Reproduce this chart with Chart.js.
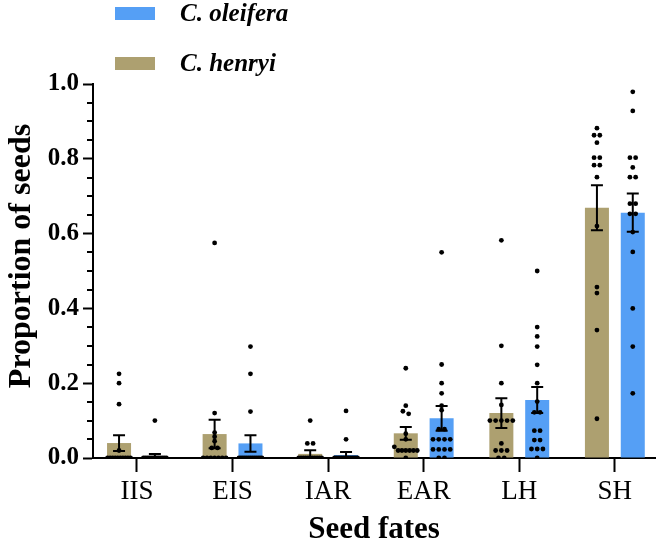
<!DOCTYPE html>
<html lang="en">
<head>
<meta charset="UTF-8">
<title>Seed fates</title>
<style>
  body { margin: 0; background: #fff; }
  #wrap { width: 661px; height: 548px; }
</style>
</head>
<body>
<div id="wrap"><canvas id="myChart"></canvas></div>
<script src="https://cdn.jsdelivr.net/npm/chart.js"></script>
<script>
const categories = ['IIS', 'EIS', 'IAR', 'EAR', 'LH', 'SH'];

const meanHenryi = [0.040, 0.064, 0.011, 0.066, 0.120, 0.669];
const semHenryi = [0.021, 0.038, 0.010, 0.017, 0.040, 0.060];
const meanOleifera = [0.005, 0.039, 0.008, 0.106, 0.155, 0.656];
const semOleifera = [0.006, 0.022, 0.008, 0.033, 0.035, 0.051];

// individual plots, one list per seed fate
const dotsHenryi = [
  [0.225, 0.200, 0.144, 0.020, 0, 0, 0, 0, 0, 0, 0, 0, 0, 0],
  [0.575, 0.120, 0.068, 0.057, 0.045, 0.027, 0.027, 0, 0, 0, 0, 0, 0, 0],
  [0.100, 0.039, 0.039, 0, 0, 0, 0, 0, 0, 0, 0, 0, 0, 0],
  [0.240, 0.140, 0.125, 0.118, 0.065, 0.050, 0.030, 0.020, 0.020, 0.020, 0.020, 0.020, 0.020, 0],
  [0.582, 0.300, 0.200, 0.142, 0.100, 0.100, 0.100, 0.100, 0.100, 0.039, 0.020, 0.020, 0.020, 0, 0],
  [0.882, 0.863, 0.863, 0.843, 0.803, 0.803, 0.783, 0.783, 0.751, 0.620, 0.457, 0.441, 0.342, 0.105]
];
const dotsOleifera = [
  [0.100, 0, 0, 0, 0, 0, 0, 0, 0, 0, 0, 0, 0, 0],
  [0.298, 0.225, 0.124, 0, 0, 0, 0, 0, 0, 0, 0, 0, 0, 0, 0, 0],
  [0.126, 0.050, 0, 0, 0, 0, 0, 0, 0, 0, 0, 0, 0, 0, 0, 0],
  [0.550, 0.250, 0.200, 0.173, 0.140, 0.128, 0.077, 0.077, 0.050, 0.050, 0.050, 0.050, 0.023, 0.023, 0.023, 0.023, 0, 0],
  [0.500, 0.350, 0.325, 0.298, 0.249, 0.200, 0.151, 0.122, 0.122, 0.073, 0.073, 0.048, 0.048, 0.024, 0.024, 0.024, 0],
  [0.979, 0.928, 0.803, 0.803, 0.777, 0.751, 0.751, 0.680, 0.680, 0.653, 0.653, 0.604, 0.551, 0.400, 0.298, 0.173]
];

const tan = '#ada070';
const blue = '#559ff5';
const catPct = 0.75;
const serif = 'Liberation Serif';

// spread dots of (almost) equal value side by side, like a column scatter
function swarm(lists, shift) {
  const pts = [];
  lists.forEach((vals, i) => {
    const sorted = vals.slice().sort((a, b) => b - a);
    let row = [];
    const flush = () => {
      const k = row.length;
      const gap = k > 1 ? Math.min(0.06, 0.24 / (k - 1)) : 0;
      row.forEach((v, j) => pts.push({ x: i + shift + (j - (k - 1) / 2) * gap, y: v }));
      row = [];
    };
    sorted.forEach(v => {
      if (row.length && row[0] - v > 0.011) flush();
      row.push(v);
    });
    flush();
  });
  return pts;
}

const sems = [semHenryi, semOleifera];

const extras = {
  id: 'extras',
  afterDraw(chart) {
    const c = chart.ctx;
    const y = chart.scales.y;
    const area = chart.chartArea;
    c.save();
    c.strokeStyle = '#000';
    c.fillStyle = '#000';
    c.lineWidth = 2;

    // minor ticks on y
    for (let i = 1; i < 20; i++) {
      if (i % 4 === 0) continue;
      const py = Math.round(y.getPixelForValue(i * 0.05));
      c.beginPath();
      c.moveTo(area.left - 6, py);
      c.lineTo(area.left, py);
      c.stroke();
    }

    // error bars (mean +- SEM)
    [0, 1].forEach(d => {
      const ds = chart.data.datasets[d];
      chart.getDatasetMeta(d).data.forEach((bar, i) => {
        const m = ds.data[i].y;
        const top = y.getPixelForValue(m + sems[d][i]);
        const bot = y.getPixelForValue(Math.max(m - sems[d][i], 0));
        c.beginPath();
        c.moveTo(bar.x, top); c.lineTo(bar.x, bot);
        c.moveTo(bar.x - 6, top); c.lineTo(bar.x + 6, top);
        c.moveTo(bar.x - 6, bot); c.lineTo(bar.x + 6, bot);
        c.stroke();
      });
    });

    // legend
    c.font = 'italic bold 25px "' + serif + '"';
    c.textBaseline = 'middle';
    c.textAlign = 'left';
    [1, 0].forEach((d, k) => {
      const ds = chart.data.datasets[d];
      c.fillStyle = ds.backgroundColor;
      c.fillRect(115, 7 + k * 50, 40, 13);
      c.fillStyle = '#000';
      c.fillText(ds.label, 180, 15 + k * 50);
    });

    // axis titles
    c.textAlign = 'center';
    c.font = 'bold 31px "' + serif + '"';
    c.fillText('Seed fates', (area.left + area.right) / 2, 530);
    c.font = 'bold 32px "' + serif + '"';
    c.translate(22, 256);
    c.rotate(-Math.PI / 2);
    c.fillText('Proportion of seeds', 0, 0);
    c.restore();
  }
};

const ctx = document.getElementById('myChart');

new Chart(ctx, {
  type: 'bar',
  data: {
    datasets: [
      {
        label: 'C. henryi',
        data: categories.map((c, i) => ({ x: i, y: meanHenryi[i] })),
        backgroundColor: tan,
        categoryPercentage: catPct,
        barPercentage: 0.67,
        order: 2
      },
      {
        label: 'C. oleifera',
        data: categories.map((c, i) => ({ x: i, y: meanOleifera[i] })),
        backgroundColor: blue,
        categoryPercentage: catPct,
        barPercentage: 0.67,
        order: 2
      },
      {
        type: 'scatter',
        label: 'henryi points',
        data: swarm(dotsHenryi, -catPct / 4),
        pointRadius: 2.4,
        backgroundColor: '#000',
        borderWidth: 0,
        order: 1
      },
      {
        type: 'scatter',
        label: 'oleifera points',
        data: swarm(dotsOleifera, catPct / 4),
        pointRadius: 2.4,
        backgroundColor: '#000',
        borderWidth: 0,
        order: 1
      }
    ]
  },
  options: {
    responsive: true,
    maintainAspectRatio: false,
    animation: false,
    layout: { padding: { top: 84, right: 6, left: 0, bottom: 0 } },
    plugins: {
      legend: { display: false },
      tooltip: { enabled: false }
    },
    scales: {
      x: {
        type: 'linear',
        min: -0.46,
        max: 5.42,
        offset: false,
        afterFit: s => { s.height = 90; },
        afterBuildTicks: s => { s.ticks = categories.map((c, i) => ({ value: i })); },
        border: { color: '#000', width: 2 },
        grid: { offset: false, drawOnChartArea: false, tickLength: 14, tickWidth: 2, tickColor: '#000' },
        ticks: {
          padding: 4,
          color: '#000',
          autoSkip: false,
          maxRotation: 0,
          font: { family: serif, size: 27 },
          callback: v => categories[v] ?? ''
        }
      },
      y: {
        min: 0,
        max: 1,
        afterFit: s => { s.width = 93; },
        border: { color: '#000', width: 2 },
        grid: { drawOnChartArea: false, tickLength: 10, tickWidth: 2, tickColor: '#000' },
        ticks: {
          stepSize: 0.2,
          padding: 4,
          color: '#000',
          font: { family: serif, size: 25, weight: 'bold' },
          callback: v => v.toFixed(1)
        }
      }
    }
  },
  plugins: [extras]
});
</script>
</body>
</html>
